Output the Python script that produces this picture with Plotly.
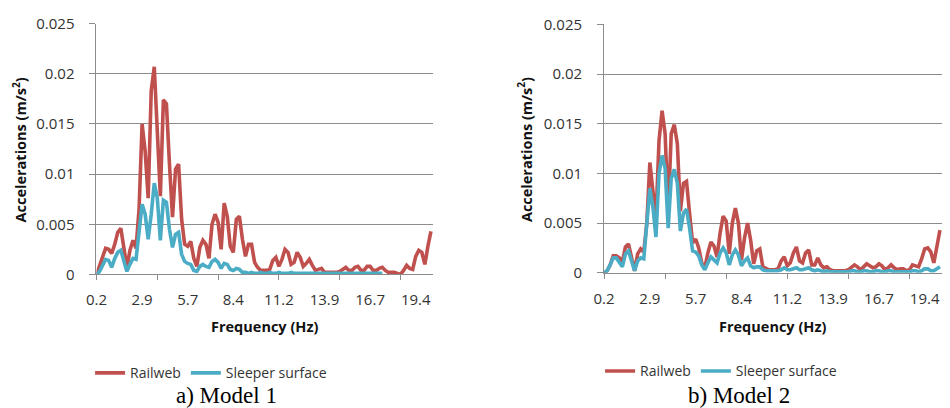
import plotly.graph_objects as go

# ---- data -------------------------------------------------------------
FREQ_START = 0.2
FREQ_STEP = 0.18333
N_POINTS = 111
freq = [round(FREQ_START + i * FREQ_STEP, 4) for i in range(N_POINTS)]

tick_labels = ["0.2", "2.9", "5.7", "8.4", "11.2", "13.9", "16.7", "19.4"]
tick_label_every = 15      # categories between labels
tick_mark_every = 20       # categories between tick marks

y_ticks = [0, 0.005, 0.01, 0.015, 0.02, 0.025]
y_tick_text = ["0", "0.005", "0.01", "0.015", "0.02", "0.025"]

m1_railweb = [
    0, 0.0008, 0.0018, 0.0026, 0.0025, 0.0021, 0.0030, 0.0042, 0.0046, 0.0028,
    0.0007, 0.0024, 0.0034, 0.0026, 0.0065, 0.0150, 0.0123, 0.0076, 0.0183, 0.0207,
    0.0150, 0.0078, 0.0174, 0.0170, 0.0110, 0.0057, 0.0105, 0.0110, 0.0055, 0.0030,
    0.0028, 0.0033, 0.0016, 0.0008, 0.0027, 0.0034, 0.0030, 0.0016, 0.0050, 0.0060,
    0.0052, 0.0025, 0.0071, 0.0058, 0.0028, 0.0022, 0.0055, 0.0058, 0.0035, 0.0018,
    0.0030, 0.0030, 0.0012, 0.0007, 0.0004, 0.0004, 0.0004, 0.0005, 0.0014, 0.0017,
    0.0008, 0.0015, 0.0025, 0.0022, 0.0010, 0.0012, 0.0022, 0.0017, 0.0008, 0.0011,
    0.0015, 0.0009, 0.0004, 0.0005, 0.0006, 0.0002, 0.0002, 0.0002, 0.0002, 0.0002,
    0.0003, 0.0005, 0.0007, 0.0004, 0.0004, 0.0007, 0.0008, 0.0004, 0.0004, 0.0008,
    0.0008, 0.0004, 0.0004, 0.0006, 0.0007, 0.0004, 0.0002, 0.0002, 0.0002, 0.0001,
    0.0000, 0.0004, 0.0009, 0.0006, 0.0005, 0.0018, 0.0024, 0.0022, 0.0010, 0.0028,
    0.0043,
]
m1_sleeper = [
    0, 0.0003, 0.0009, 0.0015, 0.0014, 0.0007, 0.0016, 0.0022, 0.0024, 0.0013,
    0.0003, 0.0010, 0.0016, 0.0015, 0.0040, 0.0070, 0.0060, 0.0035, 0.0060, 0.0091,
    0.0076, 0.0034, 0.0074, 0.0072, 0.0045, 0.0027, 0.0040, 0.0042, 0.0020, 0.0013,
    0.0011, 0.0010, 0.0004, 0.0003, 0.0008, 0.0010, 0.0008, 0.0007, 0.0013, 0.0015,
    0.0012, 0.0006, 0.0011, 0.0010, 0.0005, 0.0004, 0.0006, 0.0005, 0.0002, 0.0002,
    0.0001, 0.0002, 0.0001, 0.0001, 0.0002, 0.0001, 0.0001, 0.0002, 0.0001, 0.0001,
    0.0002, 0.0001, 0.0001, 0.0001, 0.0002, 0.0001, 0.0001, 0.0001, 0.0001, 0.0001,
    0.0001, 0.0001, 0.0001, 0.0001, 0.0001, 0.0001, 0.0001, 0.0001, 0.0001, 0.0001,
    0.0001, 0.0001, 0.0001, 0.0001, 0.0001, 0.0001, 0.0001, 0.0001, 0.0001, 0.0001,
    0.0001, 0.0001, 0.0001, 0.0001, 0.0001, None, None, None, None, None,
    None, None, None, None, None, None, None, None, None, None,
    None,
]
m2_railweb = [
    0, 0.0002, 0.0008, 0.0017, 0.0017, 0.0015, 0.0011, 0.0026, 0.0029, 0.0014,
    0.0002, 0.0019, 0.0024, 0.0021, 0.0050, 0.0111, 0.0086, 0.0054, 0.0133, 0.0163,
    0.0140, 0.0060, 0.0140, 0.0149, 0.0130, 0.0062, 0.0090, 0.0092, 0.0060, 0.0030,
    0.0034, 0.0025, 0.0010, 0.0005, 0.0020, 0.0031, 0.0027, 0.0016, 0.0040, 0.0057,
    0.0052, 0.0019, 0.0050, 0.0065, 0.0050, 0.0013, 0.0035, 0.0050, 0.0033, 0.0009,
    0.0022, 0.0024, 0.0006, 0.0004, 0.0003, 0.0003, 0.0003, 0.0004, 0.0012, 0.0016,
    0.0007, 0.0010, 0.0020, 0.0026, 0.0012, 0.0010, 0.0020, 0.0023, 0.0008, 0.0008,
    0.0015, 0.0008, 0.0005, 0.0006, 0.0003, 0.0002, 0.0002, 0.0002, 0.0002, 0.0002,
    0.0003, 0.0005, 0.0008, 0.0006, 0.0003, 0.0006, 0.0009, 0.0007, 0.0005, 0.0006,
    0.0009, 0.0007, 0.0003, 0.0005, 0.0008, 0.0005, 0.0003, 0.0004, 0.0004, 0.0002,
    0.0003, 0.0008, 0.0007, 0.0006, 0.0014, 0.0024, 0.0025, 0.0021, 0.0010, 0.0025,
    0.0043,
]
m2_sleeper = [
    0, 0.0002, 0.0008, 0.0015, 0.0015, 0.0010, 0.0006, 0.0019, 0.0022, 0.0012,
    0.0002, 0.0012, 0.0015, 0.0014, 0.0045, 0.0085, 0.0066, 0.0036, 0.0100, 0.0118,
    0.0105, 0.0045, 0.0095, 0.0104, 0.0090, 0.0042, 0.0060, 0.0064, 0.0045, 0.0022,
    0.0021, 0.0017, 0.0008, 0.0003, 0.0010, 0.0016, 0.0013, 0.0010, 0.0020, 0.0025,
    0.0020, 0.0008, 0.0018, 0.0023, 0.0018, 0.0007, 0.0012, 0.0015, 0.0007, 0.0005,
    0.0006, 0.0006, 0.0003, 0.0002, 0.0002, 0.0002, 0.0002, 0.0002, 0.0003, 0.0005,
    0.0003, 0.0003, 0.0004, 0.0005, 0.0003, 0.0003, 0.0004, 0.0005, 0.0003, 0.0002,
    0.0003, 0.0002, 0.0001, 0.0002, 0.0001, 0.0001, 0.0001, 0.0001, 0.0001, 0.0001,
    0.0001, 0.0002, 0.0002, 0.0001, 0.0001, 0.0002, 0.0002, 0.0001, 0.0001, 0.0002,
    0.0002, 0.0001, 0.0001, 0.0002, 0.0002, 0.0001, 0.0001, 0.0001, 0.0001, 0.0001,
    0.0001, 0.0002, 0.0002, 0.0001, 0.0002, 0.0004, 0.0004, 0.0002, 0.0002, 0.0004,
    0.0006,
]

series_names = ["Railweb", "Sleeper surface"]
captions = ["a) Model 1", "b) Model 2"]

# ---- styling ----------------------------------------------------------
RED = "#C0504D"
BLUE = "#4BACC6"
GRID = "#8c8c8c"
FONT = "Open Sans"
W, H = 950, 408

fig = go.Figure()

panels = [
    dict(rw=m1_railweb, sl=m1_sleeper, xa="x", ya="y", leg="legend",
         xdom=[86.5, 427.0], ydom=[277.0, 13.3]),
    dict(rw=m2_railweb, sl=m2_sleeper, xa="x2", ya="y2", leg="legend2",
         xdom=[600.0, 942.0], ydom=[275.3, 14.0]),
]

for p in panels:
    fig.add_trace(go.Scatter(x=freq, y=p["rw"], mode="lines", name=series_names[0],
                             line=dict(color=RED, width=3.6), xaxis=p["xa"], yaxis=p["ya"],
                             legend=p["leg"]))
    fig.add_trace(go.Scatter(x=freq, y=p["sl"], mode="lines", name=series_names[1],
                             line=dict(color=BLUE, width=3.6), xaxis=p["xa"], yaxis=p["ya"],
                             legend=p["leg"], connectgaps=False))

label_vals = [freq[i * tick_label_every] for i in range(len(tick_labels))]
mark_vals = [freq[i] for i in range(0, N_POINTS, tick_mark_every)]
x_max = FREQ_START + 110.7 * FREQ_STEP

layout = dict(
    width=W, height=H, margin=dict(l=0, r=0, t=0, b=0),
    paper_bgcolor="white", plot_bgcolor="white",
    font=dict(family=FONT, size=15, color="#333333"),
    showlegend=True,
)

for k, p in enumerate(panels):
    sfx = "" if k == 0 else str(k + 1)
    layout["xaxis" + sfx] = dict(
        domain=[p["xdom"][0] / W, p["xdom"][1] / W],
        anchor="y" + sfx, range=[FREQ_START, x_max],
        tickvals=label_vals, ticktext=tick_labels, ticks="",
        ticklabelstandoff=12,
        showgrid=False, zeroline=False,
        showline=True, linecolor=GRID, linewidth=1,
        minor=dict(tickvals=mark_vals, ticks="outside", ticklen=5,
                   tickcolor=GRID, tickwidth=1, showgrid=False),
        tickfont=dict(size=15, family=FONT, color="#333333"),
    )
    layout["yaxis" + sfx] = dict(
        domain=[(H - p["ydom"][0]) / H, (H - p["ydom"][1]) / H],
        anchor="x" + sfx, range=[0, 0.025],
        tickvals=y_ticks, ticktext=y_tick_text,
        ticks="outside", ticklen=6, tickcolor=GRID, tickwidth=1,
        ticklabelstandoff=12,
        showgrid=True, gridcolor=GRID, gridwidth=1, zeroline=False,
        showline=True, linecolor=GRID, linewidth=1,
        tickfont=dict(size=15, family=FONT, color="#333333"),
    )

layout["legend"] = dict(orientation="h", x=80 / W, y=(H - 381) / H, xanchor="left",
                        yanchor="middle", font=dict(size=14, family=FONT, color="#333333"),
                        itemwidth=30, bgcolor="rgba(0,0,0,0)", tracegroupgap=0)
layout["legend2"] = dict(orientation="h", x=596 / W, y=(H - 379) / H, xanchor="left",
                         yanchor="middle", font=dict(size=14, family=FONT, color="#333333"),
                         itemwidth=30, bgcolor="rgba(0,0,0,0)", tracegroupgap=0)

fig.update_layout(**layout)

ann = []
for xc in (8.7, 520.3):
    ann.append(dict(text="<b>Accelerations (m/s<sup>2</sup>)</b>", x=xc / W, y=(H - 146) / H,
                    xref="paper", yref="paper", showarrow=False, textangle=-90,
                    font=dict(size=14.5, family=FONT, color="#111111"),
                    xanchor="center", yanchor="middle"))
for xc in (256.5, 770.5):
    ann.append(dict(text="<b>Frequency (Hz)</b>", x=xc / W, y=(H - 331.7) / H,
                    xref="paper", yref="paper", showarrow=False,
                    font=dict(size=14.5, family=FONT, color="#111111"),
                    xanchor="center", yanchor="middle"))
for xc, yc, cap in ((217.7, 404.5, captions[0]), (736.3, 404.5, captions[1])):
    ann.append(dict(text=cap, x=xc / W, y=(H - yc) / H, xref="paper", yref="paper",
                    showarrow=False, font=dict(size=23, family="Liberation Serif", color="#000000"),
                    xanchor="center", yanchor="middle"))
fig.update_layout(annotations=ann)

fig.write_html("out.html")
